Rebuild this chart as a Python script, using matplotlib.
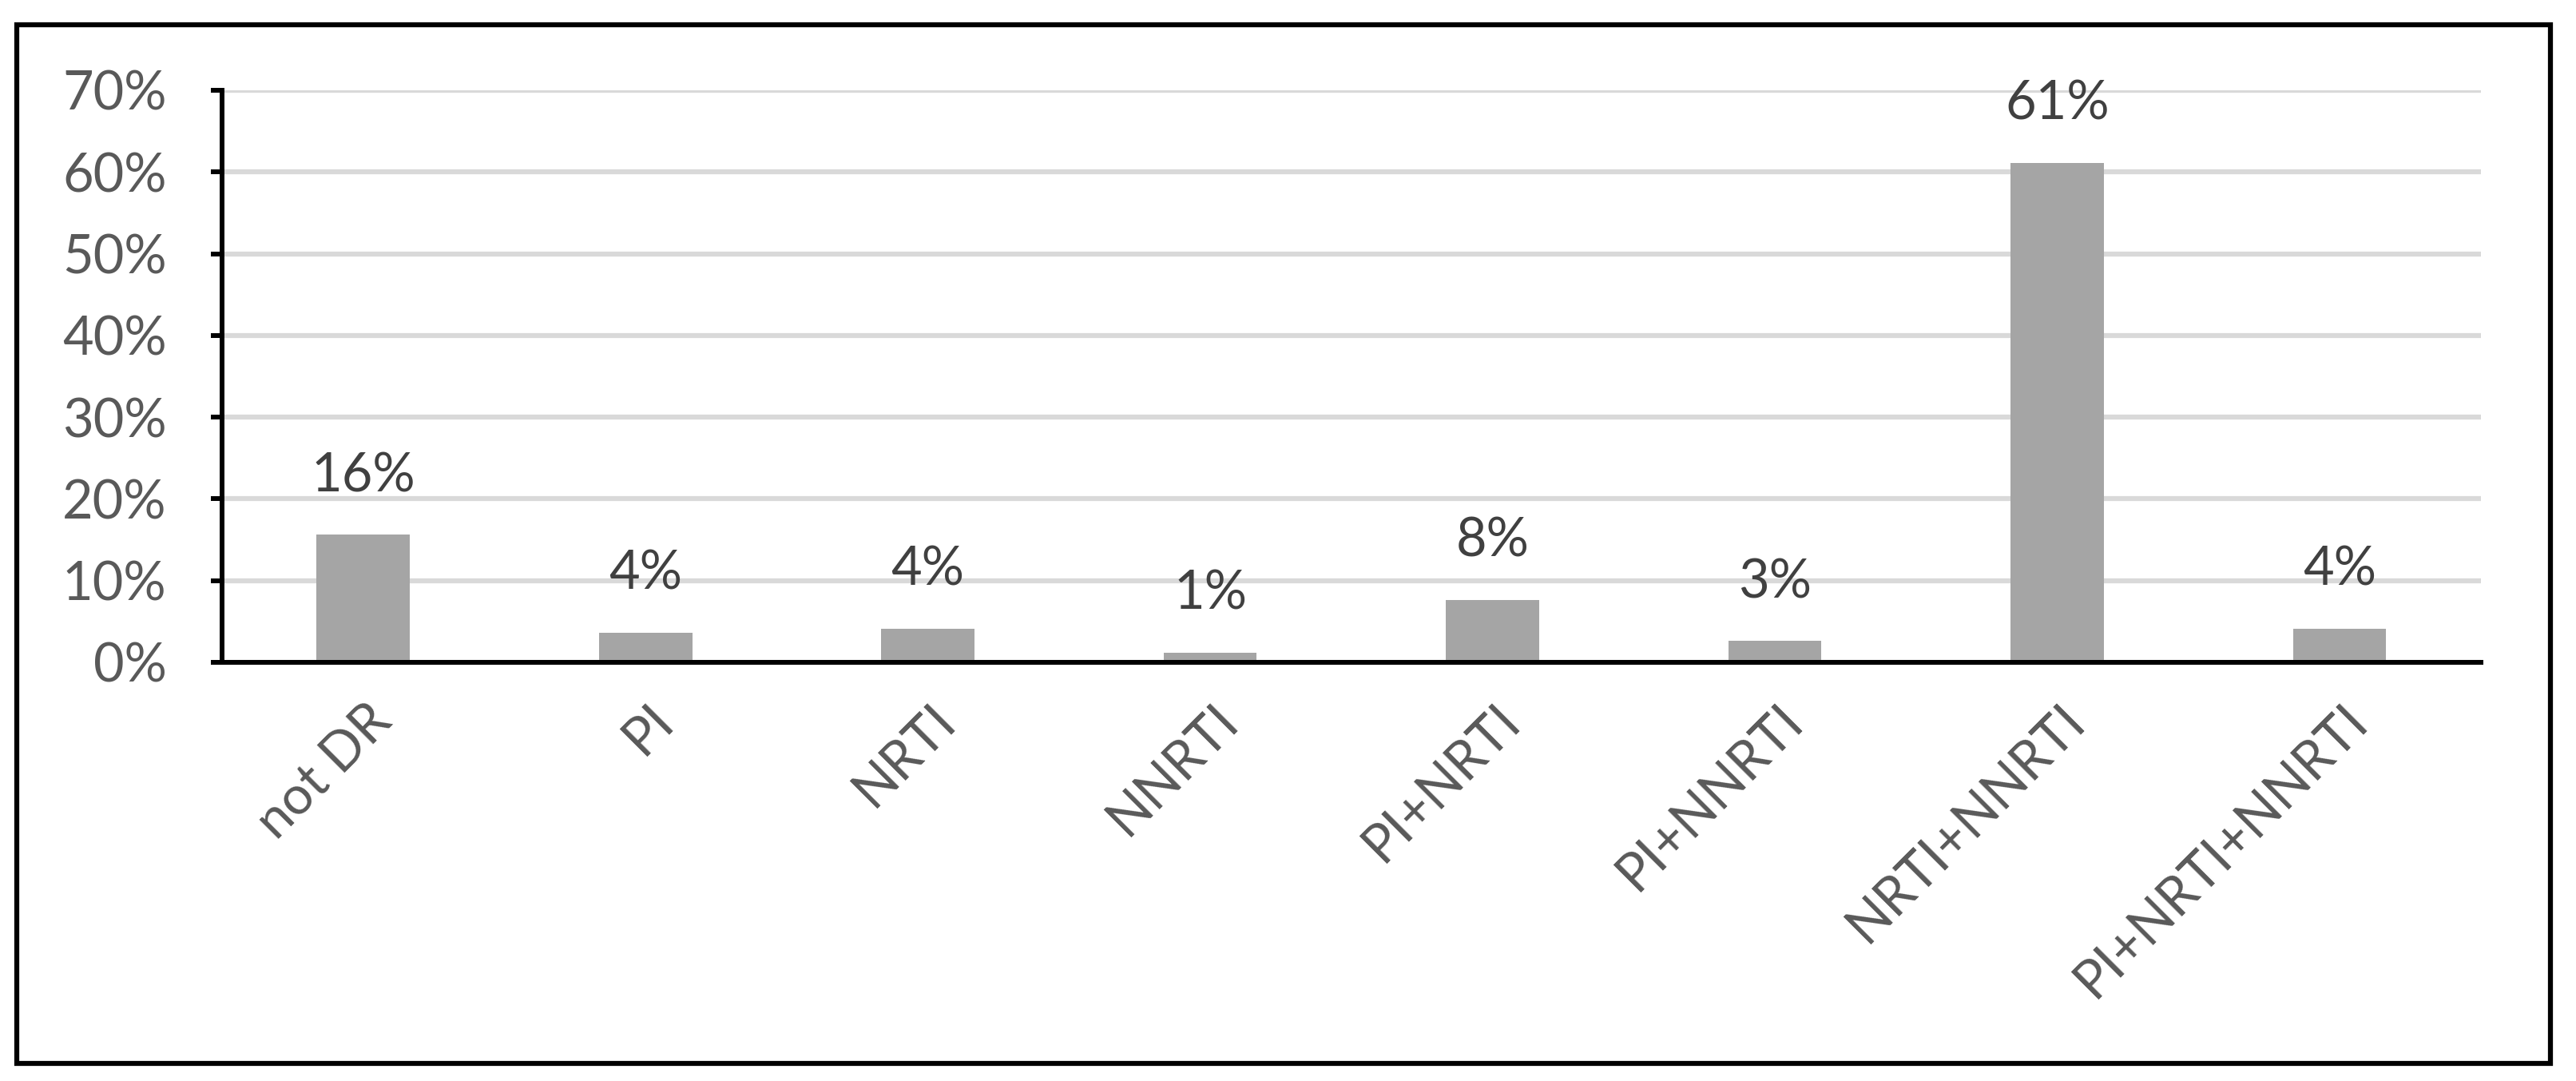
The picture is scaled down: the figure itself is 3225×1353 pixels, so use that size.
import matplotlib.pyplot as plt
from matplotlib.patches import Rectangle
from matplotlib.transforms import ScaledTranslation

# %% data
categories = ['not DR', 'PI', 'NRTI', 'NNRTI', 'PI+NRTI', 'PI+NNRTI', 'NRTI+NNRTI', 'PI+NRTI+NNRTI']
shares = [15.6, 3.6, 4.1, 1.2, 7.6, 2.6, 61.1, 4.1]
yticks = [0, 10, 20, 30, 40, 50, 60, 70]

# %% plot
plt.rcParams['font.family'] = ['Lato', 'DejaVu Sans']

fig = plt.figure(figsize=(32.25, 13.53), dpi=100)
ax = fig.add_axes([0.0862, 0.3874, 0.963 - 0.0862, 0.9165 - 0.3874])
x = list(range(len(categories)))
ax.bar(x, shares, width=0.33, color='#a5a5a5', zorder=2)
ax.set(xlim=(-0.5, len(categories) - 0.5), ylim=(0, 70))
ax.set_yticks(yticks)
ax.set_yticklabels([f'{t}%' for t in yticks])
ax.yaxis.grid(True, color='#d9d9d9', linewidth=4.5)
ax.set_axisbelow(True)
for s in ['top', 'right']:
    ax.spines[s].set_visible(False)
for s in ['left', 'bottom']:
    ax.spines[s].set_linewidth(4.3)
ax.tick_params(axis='y', length=10, width=4.3, pad=40, labelsize=48, labelcolor='#595959')
ax.tick_params(axis='x', length=0, pad=30, labelsize=48, labelcolor='#595959')
ax.set_xticks(x)
ax.set_xticklabels(categories, rotation=45, ha='right', va='top', rotation_mode='anchor')
shift = ScaledTranslation(2 / 72, 0, fig.dpi_scale_trans)
for lab in ax.get_xticklabels():
    lab.set_transform(lab.get_transform() + shift)

for xi, v in zip(x, shares):
    ax.annotate(f'{round(v)}%', (xi, v), xytext=(0, 39), textcoords='offset points',
                ha='center', va='baseline', fontsize=48, color='#404040')

# outer frame
fig.add_artist(Rectangle((0.0065, 0.016), 0.9835, 0.961, transform=fig.transFigure,
                         fill=False, edgecolor='black', linewidth=4.5))
fig.savefig('out.png', dpi=100)
